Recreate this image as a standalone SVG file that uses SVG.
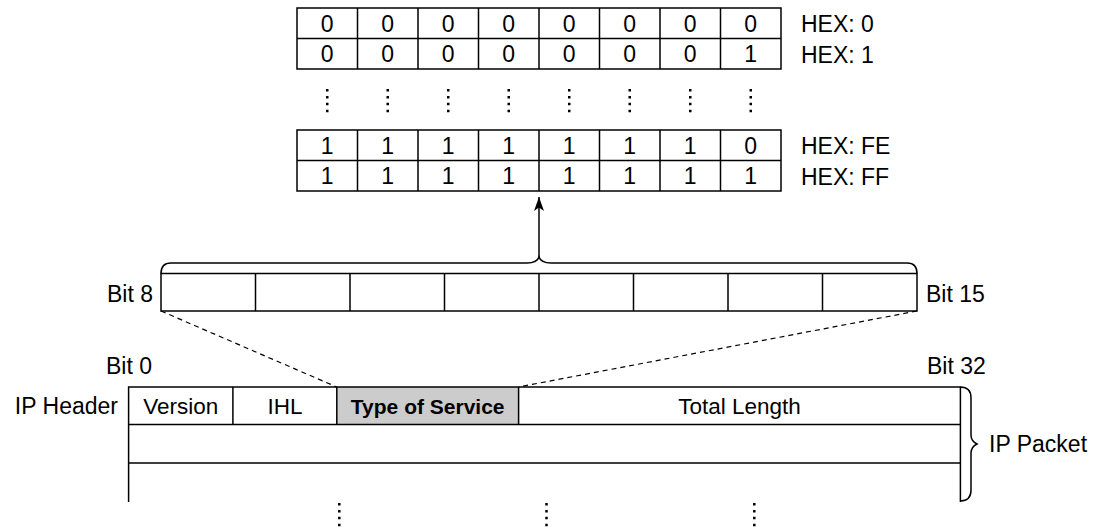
<svg xmlns="http://www.w3.org/2000/svg" width="1100" height="527" viewBox="0 0 1100 527">
<style>
.ln{fill:none;stroke:#000;stroke-width:1.5}
.cell{fill:#fff;stroke:#000;stroke-width:1.5}
.dig text{font-family:"Liberation Sans",Arial,sans-serif;font-size:23px;text-anchor:middle;fill:#000}
.lbl{font-family:"Liberation Sans",Arial,sans-serif;font-size:23px;fill:#000}
.hdr{font-family:"Liberation Sans",Arial,sans-serif;font-size:22.5px;text-anchor:middle;fill:#000}
.dots{fill:none;stroke:#000;stroke-width:2.5;stroke-dasharray:2.5 4.4}
.dash{fill:none;stroke:#000;stroke-width:1.2;stroke-dasharray:5 4}
</style>
<defs>
<marker id="ah" viewBox="0 0 14 10" refX="14" refY="5" markerWidth="14" markerHeight="10" markerUnits="userSpaceOnUse" orient="auto">
<path d="M14,5 L0,0 L3.5,5 L0,10 Z" fill="#000"/>
</marker>
</defs>

<g id="table-top">
<rect class="cell" x="297" y="8" width="484" height="61"/>
<line class="ln" x1="297" y1="38.5" x2="781" y2="38.5"/>
<path class="ln" d="M357.5,8V69M418,8V69M478.5,8V69M539,8V69M599.5,8V69M660,8V69M720.5,8V69"/>
<g class="dig">
<text x="327.25" y="31.5">0</text><text x="387.75" y="31.5">0</text><text x="448.25" y="31.5">0</text><text x="508.75" y="31.5">0</text><text x="569.25" y="31.5">0</text><text x="629.75" y="31.5">0</text><text x="690.25" y="31.5">0</text><text x="750.75" y="31.5">0</text>
<text x="327.25" y="62">0</text><text x="387.75" y="62">0</text><text x="448.25" y="62">0</text><text x="508.75" y="62">0</text><text x="569.25" y="62">0</text><text x="629.75" y="62">0</text><text x="690.25" y="62">0</text><text x="750.75" y="62">1</text>
</g>
<text class="lbl" x="801" y="32">HEX: 0</text>
<text class="lbl" x="801" y="63">HEX: 1</text>
</g>

<g id="dots-top">
<path class="dots" d="M327.25,89V114M387.75,89V114M448.25,89V114M508.75,89V114M569.25,89V114M629.75,89V114M690.25,89V114M750.75,89V114"/>
</g>

<g id="table-bottom">
<rect class="cell" x="297" y="130" width="484" height="61"/>
<line class="ln" x1="297" y1="160.5" x2="781" y2="160.5"/>
<path class="ln" d="M357.5,130V191M418,130V191M478.5,130V191M539,130V191M599.5,130V191M660,130V191M720.5,130V191"/>
<g class="dig">
<text x="327.25" y="153.5">1</text><text x="387.75" y="153.5">1</text><text x="448.25" y="153.5">1</text><text x="508.75" y="153.5">1</text><text x="569.25" y="153.5">1</text><text x="629.75" y="153.5">1</text><text x="690.25" y="153.5">1</text><text x="750.75" y="153.5">0</text>
<text x="327.25" y="184">1</text><text x="387.75" y="184">1</text><text x="448.25" y="184">1</text><text x="508.75" y="184">1</text><text x="569.25" y="184">1</text><text x="629.75" y="184">1</text><text x="690.25" y="184">1</text><text x="750.75" y="184">1</text>
</g>
<text class="lbl" x="801" y="154">HEX: FE</text>
<text class="lbl" x="801" y="185">HEX: FF</text>
</g>

<g id="bitfield">
<rect class="cell" x="161" y="273.5" width="756" height="37.5"/>
<path class="ln" d="M255.5,273.5V311M350,273.5V311M444.5,273.5V311M539,273.5V311M633.5,273.5V311M728,273.5V311M822.5,273.5V311"/>
<text class="lbl" x="153" y="302" text-anchor="end">Bit 8</text>
<text class="lbl" x="926" y="302">Bit 15</text>
</g>

<g id="ip-header">
<rect x="336.8" y="387" width="181.8" height="37.5" fill="#cccccc"/>
<path class="ln" d="M128.6,502V387H960.4V502"/>
<path class="ln" d="M128.6,424.5H960.4M128.6,463H960.4"/>
<path class="ln" d="M232.9,387V424.5M336.8,387V424.5M518.6,387V424.5"/>
<text class="hdr" x="180.7" y="413.5">Version</text>
<text class="hdr" x="284.9" y="413.5">IHL</text>
<text class="hdr" x="427.7" y="413.5" style="font-weight:bold;font-size:21px">Type of Service</text>
<text class="hdr" x="739.5" y="413.5">Total Length</text>
<text class="lbl" x="118" y="413.5" text-anchor="end">IP Header</text>
<text class="lbl" x="106" y="374">Bit 0</text>
<text class="lbl" x="927" y="374">Bit 32</text>
<text class="lbl" x="989" y="452">IP Packet</text>
</g>

<g id="dots-bottom">
<path class="dots" d="M339.3,503V528M546.5,503V528M754.3,503V528"/>
</g>

<g id="connectors">
<path class="ln" d="M161,273.5 Q161,263 171,263 H527 Q537,263 539,257 Q541,263 551,263 H907 Q917,263 917,273.5"/>
<line class="ln" x1="539" y1="257" x2="539" y2="197" marker-end="url(#ah)"/>
<line class="dash" x1="161" y1="311" x2="336.8" y2="387"/>
<line class="dash" x1="917" y1="311" x2="518.6" y2="387"/>
<path class="ln" d="M960.4,387 Q971,387 971,398 V435 Q971,441 977,444 Q971,447 971,453 V490 Q971,501 960.4,501"/>
</g>
</svg>
